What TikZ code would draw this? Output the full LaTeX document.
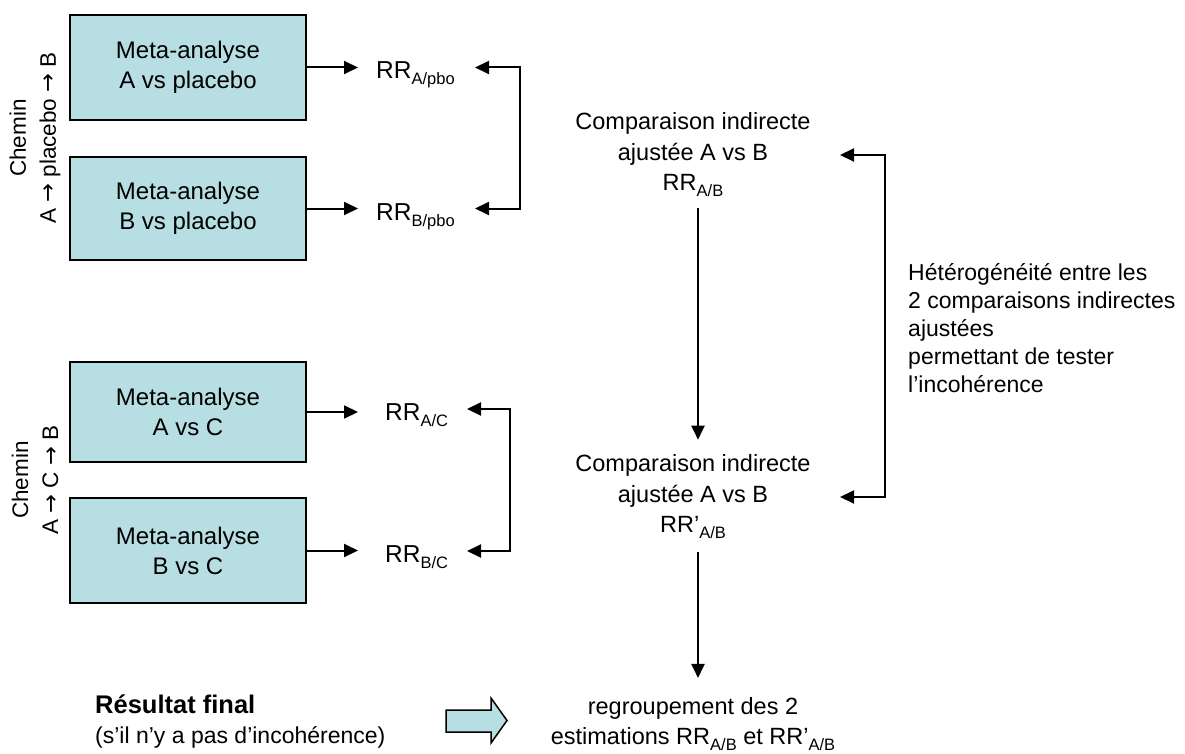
\documentclass[tikz,border=0pt]{standalone}
\usepackage{fontspec}
\setmainfont{Liberation Sans}
\newfontfamily\arrowfont{DejaVu Sans}
\usetikzlibrary{arrows.meta}
\definecolor{boxfill}{RGB}{183,222,226}
\newcommand{\rrsub}[1]{\raisebox{-6pt}{\fontsize{16.5}{16.5}\selectfont #1}}
\newcommand{\rarr}{{\arrowfont →}}
\begin{document}
\begin{tikzpicture}[x=1pt,y=-1pt,
  mabox/.style={draw=black, line width=2pt, fill=boxfill, minimum width=236pt, align=center, font=\fontsize{24}{30}\selectfont, inner sep=0pt},
  txt/.style={align=center, font=\fontsize{23.5}{30.5}\selectfont, inner sep=1pt},
  arr/.style={line width=2pt, -{Triangle[length=14pt,width=13pt]}},
  dbl/.style={line width=2pt, {Triangle[length=14pt,width=13pt]}-{Triangle[length=14pt,width=13pt]}},
]
\useasboundingbox (0,0) rectangle (1185,754);

% meta-analysis boxes
\node[mabox, minimum height=105pt] (m1) at (188,67.5) {Meta-analyse\\A vs placebo};
\node[mabox, minimum height=103pt] (m2) at (188,208.5) {Meta-analyse\\B vs placebo};
\node[mabox, minimum height=100pt] (m3) at (188,412) {Meta-analyse\\A vs C};
\node[mabox, minimum height=105pt] (m4) at (188,550.5) {Meta-analyse\\B vs C};

% path labels
\node[txt, rotate=90, font=\fontsize{22.5}{30}\selectfont] (c1) at (35,138) {Chemin\\A \rarr{} placebo \rarr{} B};
\node[txt, rotate=90, font=\fontsize{22.5}{30}\selectfont] (c2) at (35,480) {Chemin\\A \rarr{} C \rarr{} B};

% RR labels
\node[txt, anchor=base west, inner sep=0pt, font=\fontsize{24.5}{30}\selectfont] (r1) at (376,79) {RR\rrsub{A/pbo}};
\node[txt, anchor=base west, inner sep=0pt, font=\fontsize{24.5}{30}\selectfont] (r2) at (376,220) {RR\rrsub{B/pbo}};
\node[txt, anchor=base west, inner sep=0pt, font=\fontsize{24.5}{30}\selectfont] (r3) at (385,420) {RR\rrsub{A/C}};
\node[txt, anchor=base west, inner sep=0pt, font=\fontsize{24.5}{30}\selectfont] (r4) at (385,562) {RR\rrsub{B/C}};

\draw[arr, shorten >=18pt] (m1.east) -- (m1.east -| r1.west);
\draw[arr, shorten >=18pt] (m2.east) -- (m2.east -| r2.west);
\draw[arr, shorten >=27pt] (m3.east) -- (m3.east -| r3.west);
\draw[arr, shorten >=27pt] (m4.east) -- (m4.east -| r4.west);

% brackets
\coordinate (k1) at (475,67.5);
\coordinate (k2) at (475,208.5);
\coordinate (k3) at (467,409);
\coordinate (k4) at (467,551);
\draw[dbl] (k1) -- ++(45,0) |- (k2);
\draw[dbl] (k3) -- ++(43,0) |- (k4);

% comparisons
\node[txt] (cp1) at (693,155) {Comparaison indirecte\\ajustée A vs B\\RR\rrsub{A/B}};
\node[txt] (cp2) at (693,497) {Comparaison indirecte\\ajustée A vs B\\RR’\rrsub{A/B}};
\node[txt] (fin) at (693,724) {regroupement des 2\\estimations RR\rrsub{A/B} et RR’\rrsub{A/B}};

\draw[arr, shorten <=10pt, shorten >=14pt] ([xshift=5pt]cp1.south) -- ([xshift=5pt]cp2.north);
\draw[arr, shorten <=12pt, shorten >=18pt] ([xshift=5pt]cp2.south) -- ([xshift=5pt]fin.north);

% heterogeneity bracket
\coordinate (h1) at (840,155);
\coordinate (h2) at (840,497);
\draw[dbl] (h1) -- ++(45,0) |- (h2);
\node[anchor=north west, align=left, inner sep=0pt, font=\fontsize{23}{28}\selectfont] (het) at (908,263) {Hétérogénéité entre les\\2 comparaisons indirectes\\ajustées\\permettant de tester\\l’incohérence};

% final result
\node[anchor=west, align=left, inner sep=0pt, font=\fontsize{23}{30}\selectfont] (res) at (95,722) {{\fontsize{25.5}{30}\selectfont\bfseries Résultat final}\\(s’il n’y a pas d’incohérence)};
\draw[line width=1.5pt, fill=boxfill] (446,710) -- (491,710) -- (491,698) -- (507,720.5) -- (491,743) -- (491,732) -- (446,732) -- cycle;
\end{tikzpicture}
\end{document}
